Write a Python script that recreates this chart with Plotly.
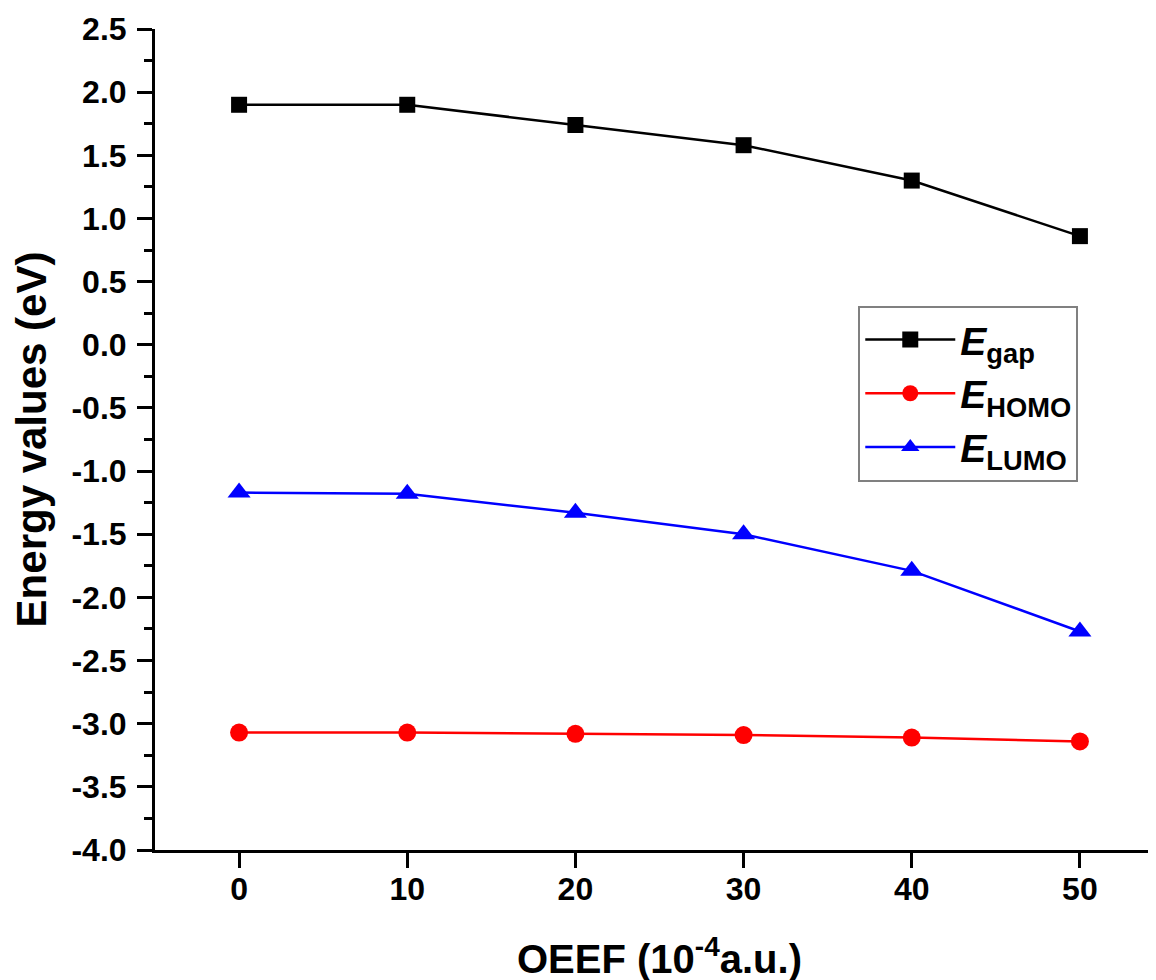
import plotly.graph_objects as go

oeef = [0, 10, 20, 30, 40, 50]
e_gap = [1.90, 1.90, 1.74, 1.58, 1.30, 0.86]
e_homo = [-3.07, -3.07, -3.08, -3.09, -3.11, -3.14]
e_lumo = [-1.17, -1.18, -1.33, -1.50, -1.79, -2.27]

y_ticks = [2.5, 2.0, 1.5, 1.0, 0.5, 0.0, -0.5, -1.0, -1.5, -2.0, -2.5, -3.0, -3.5, -4.0]
x_ticks = [0, 10, 20, 30, 40, 50]

FONT = "Liberation Sans, Arial, sans-serif"

fig = go.Figure()
fig.add_trace(go.Scatter(x=oeef, y=e_gap, mode="lines+markers",
                         name="<i>E</i><sub>gap</sub>",
                         line=dict(color="black", width=2.5),
                         marker=dict(symbol="square", size=16, color="black")))
fig.add_trace(go.Scatter(x=oeef, y=e_homo, mode="lines+markers",
                         name="<i>E</i><sub>HOMO</sub>",
                         line=dict(color="#ff0000", width=2.5),
                         marker=dict(symbol="circle", size=18, color="#ff0000")))
fig.add_trace(go.Scatter(x=oeef, y=e_lumo, mode="lines+markers",
                         name="<i>E</i><sub>LUMO</sub>",
                         line=dict(color="#0000ff", width=2.5),
                         marker=dict(symbol="triangle-up", size=20, color="#0000ff")))

fig.update_layout(
    width=1156, height=980,
    margin=dict(l=147, r=0, t=21, b=138),
    paper_bgcolor="white", plot_bgcolor="white",
    font=dict(family=FONT, color="black"),
    showlegend=True,
    legend=dict(x=0.697, y=0.663, xanchor="left", yanchor="top",
                bgcolor="white", bordercolor="#808080", borderwidth=2,
                font=dict(family=FONT, size=39, color="black", weight="bold"),
                itemwidth=90, tracegroupgap=0),
    xaxis=dict(range=[-5, 55], showline=True, linecolor="black", linewidth=3,
               ticks="outside", ticklen=15, tickwidth=3, tickcolor="black",
               tickvals=x_ticks, ticktext=[str(v) for v in x_ticks],
               tickfont=dict(family=FONT, size=32, color="black", weight="bold"),
               ticklabelstandoff=-6,
               showgrid=False, zeroline=False, mirror=False,
               title=dict(text="OEEF (10<sup>-4</sup>a.u.)", standoff=39,
                          font=dict(family=FONT, size=40, color="black", weight="bold"))),
    yaxis=dict(range=[-4, 2.5], showline=True, linecolor="black", linewidth=3,
               ticks="outside", ticklen=15, tickwidth=3, tickcolor="black",
               tickvals=y_ticks, ticktext=[f"{v:.1f}" for v in y_ticks],
               tickfont=dict(family=FONT, size=32, color="black", weight="bold"),
               ticklabelstandoff=4,
               minor=dict(ticks="outside", ticklen=8, tickwidth=3, tickcolor="black",
                          dtick=0.25, tick0=0, showgrid=False),
               showgrid=False, zeroline=False, mirror=False,
               title=dict(text="Energy values (eV)", standoff=14,
                          font=dict(family=FONT, size=42, color="black", weight="bold"))),
)

fig.write_html("out.html")
